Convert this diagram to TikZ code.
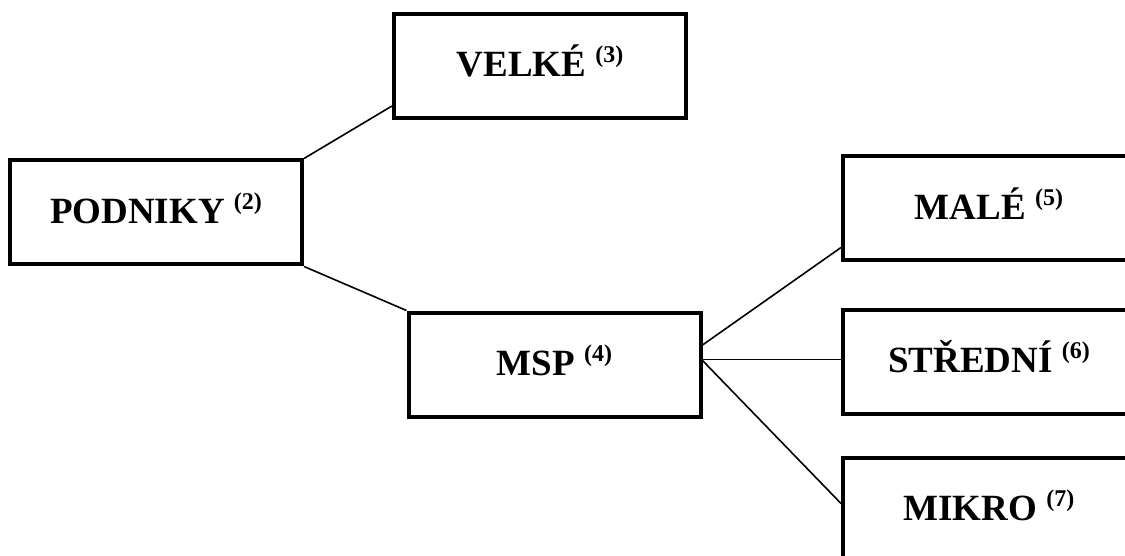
\documentclass[tikz,border=0pt]{standalone}
\usepackage{fontspec}
\setmainfont{Liberation Serif}
\usetikzlibrary{calc}
\newcommand{\supnum}[1]{\raisebox{14pt}{\fontsize{24}{24}\selectfont #1}}
\newcommand{\boxtext}[2]{\raisebox{0pt}[27pt][5pt]{#1 \supnum{#2}}}
\begin{document}
\begin{tikzpicture}[x=1pt,y=-1pt,
  box/.style={draw=black,line width=4pt,rectangle,fill=white,
    minimum width=292pt,minimum height=104pt,inner sep=0pt,
    font=\fontsize{37}{37}\selectfont\bfseries},
  link/.style={draw=black,line width=1.6pt}]
\useasboundingbox[fill=white] (0,0) rectangle (1125,556);
\node[box] (podniky) at (156,212.5) {\boxtext{PODNIKY}{(2)}};
\node[box] (velke) at (540,66) {\boxtext{VELKÉ}{(3)}};
\node[box] (msp) at (554.5,364.5) {\boxtext{MSP}{(4)}};
\node[box] (male) at (989,208.5) {\boxtext{MALÉ}{(5)}};
\node[box] (stredni) at (989,361.5) {\boxtext{STŘEDNÍ}{(6)}};
\node[box] (mikro) at (989,509.5) {\boxtext{MIKRO}{(7)}};
\coordinate (vin) at ($(velke.south west)+(0,-14)$);
\coordinate (mo1) at ($(msp.east)+(0,-19.5)$);
\coordinate (mo2) at ($(msp.east)+(0,-5)$);
\coordinate (mo3) at ($(msp.east)+(0,-4)$);
\coordinate (malin) at ($(male.south west)+(0,-15)$);
\coordinate (miin) at ($(mikro.west)+(0,-6)$);
\draw[link] (podniky.north east) -- (vin);
\draw[link] (podniky.south east) -- (msp.north west);
\draw[link] (mo1) -- (malin);
\draw[link] (mo2) -- (stredni.west |- mo2);
\draw[link] (mo3) -- (miin);
\end{tikzpicture}
\end{document}
